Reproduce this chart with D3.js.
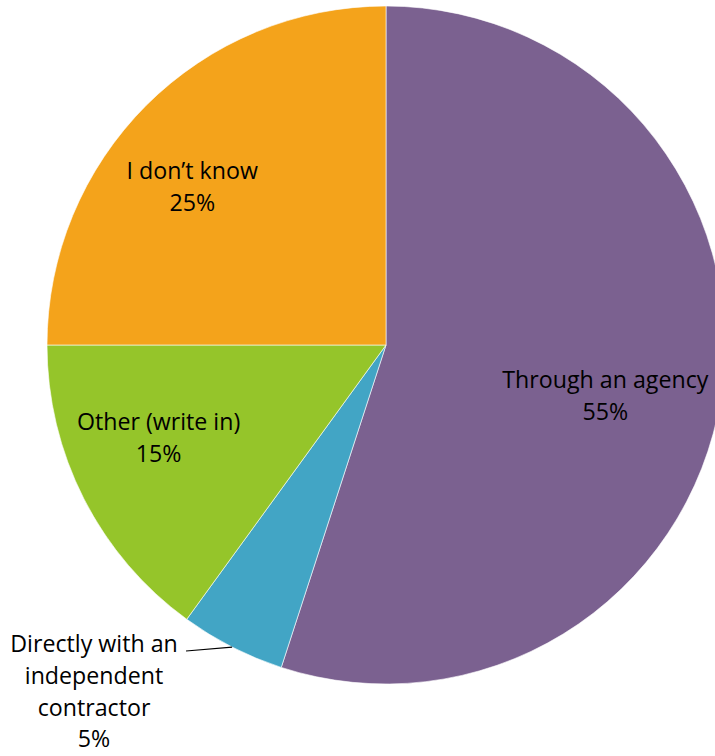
<!DOCTYPE html>
<html>
<head>
<meta charset="utf-8">
<script src="https://cdn.jsdelivr.net/npm/d3@7"></script>
<style>
  html, body { margin: 0; padding: 0; background: #fff; overflow: hidden; }
  svg { display: block; }
  text { font-family: "Open Sans", "DejaVu Sans", sans-serif; fill: #000; }
</style>
</head>
<body>
<svg id="chart" width="715" height="756"></svg>
<script>
// How the work was arranged (share of responses, %)
const categories = ["Through an agency", "Directly with an independent contractor", "Other (write in)", "I don\u2019t know"];
const values = [55, 5, 15, 25];
const colors = ["#7B6190", "#42A5C5", "#95C52A", "#F4A31B"];

// Label text lines per slice (last line carries the percentage)
const labelLines = [
  ["Through an agency"],
  ["Directly with an", "independent", "contractor"],
  ["Other (write in)"],
  ["I don\u2019t know"]
];

const W = 715, H = 756;
const cx = 386, cy = 345, R = 339;

const svg = d3.select("#chart");
const g = svg.append("g").attr("transform", `translate(${cx},${cy})`);

const pie = d3.pie().value(d => d).sort(null);
const arcs = pie(values);
const arc = d3.arc().innerRadius(0).outerRadius(R);

g.selectAll("path.slice")
  .data(arcs)
  .join("path")
  .attr("class", "slice")
  .attr("d", arc)
  .attr("fill", (d, i) => colors[i])
  .attr("stroke", "#ffffff")
  .attr("stroke-width", 0.6);

// Label placement: inside labels sit near the centroid of a wider ring,
// the small slice gets an outside label with a leader line.
const labelArc = d3.arc().innerRadius(0.7 * R).outerRadius(0.7 * R);
const nudges = [[-15, 14], null, [-16, -15], [-26, 10]];
const fontSize = 23.2;

arcs.forEach((a, i) => {
  const lines = labelLines[i].concat([values[i] + "%"]);
  if (nudges[i]) {
    const [mx, my] = labelArc.centroid(a);
    const x = mx + nudges[i][0], y = my + nudges[i][1];
    const lh = 32;
    const t = g.append("text")
      .attr("text-anchor", "middle")
      .attr("font-size", fontSize);
    lines.forEach((ln, k) => {
      t.append("tspan")
        .attr("x", x)
        .attr("y", y + (k - (lines.length - 1) / 2) * lh)
        .attr("dy", "0.35em")
        .text(ln);
    });
  } else {
    // outside label
    const mid = (a.startAngle + a.endAngle) / 2;
    const ex = Math.sin(mid) * R, ey = -Math.cos(mid) * R;
    const lx = 94 - cx, ly0 = 644 - cy, lh = 31.7;
    const t = g.append("text")
      .attr("text-anchor", "middle")
      .attr("font-size", fontSize);
    lines.forEach((ln, k) => {
      t.append("tspan")
        .attr("x", lx)
        .attr("y", ly0 + k * lh)
        .attr("dy", "0.35em")
        .text(ln);
    });
    g.append("path")
      .attr("d", d3.line()([[lx + 92, ly0 + 7], [ex, ey]]))
      .attr("fill", "none")
      .attr("stroke", "#000")
      .attr("stroke-width", 1.2);
  }
});
</script>
</body>
</html>
